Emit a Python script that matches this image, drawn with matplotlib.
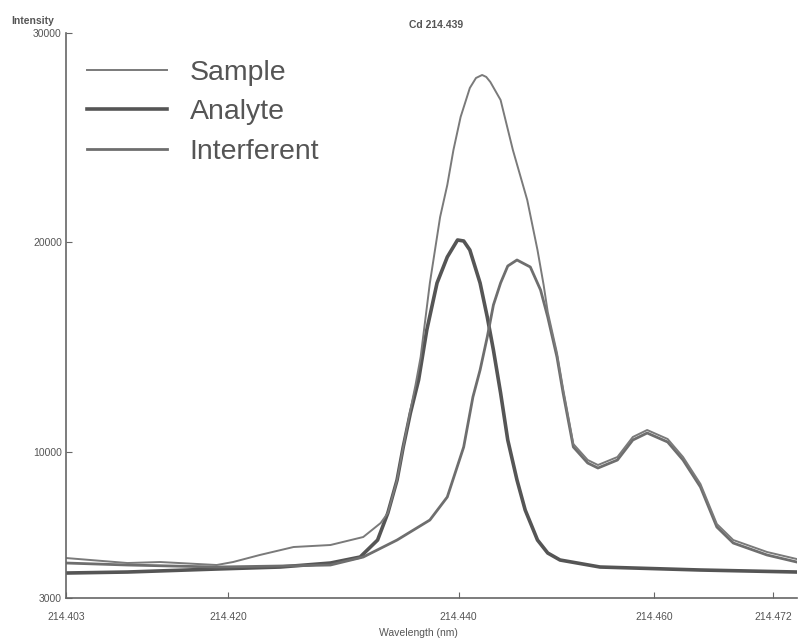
import numpy as np
import matplotlib
matplotlib.use("Agg")
import matplotlib.pyplot as plt

wl_sample = [214.4030, 214.4090, 214.4122, 214.4177, 214.4193, 214.4219, 214.4252,
             214.4288, 214.4320, 214.4337, 214.4344, 214.4353, 214.4359, 214.4366,
             214.4371, 214.4376, 214.4385, 214.4395, 214.4402, 214.4408, 214.4415,
             214.4424, 214.4430, 214.4436, 214.4440, 214.4444, 214.4454, 214.4466,
             214.4480, 214.4490, 214.4496, 214.4500, 214.4509, 214.4515, 214.4525,
             214.4539, 214.4549, 214.4568, 214.4583, 214.4597, 214.4617, 214.4632,
             214.4649, 214.4665, 214.4681, 214.4714, 214.4743]
int_sample = [4910, 4671, 4719, 4576, 4719, 5054, 5436,
              5532, 5914, 6583, 7061, 8638, 10215, 11983,
              13178, 14516, 18052, 21206, 22736, 24409, 25986,
              27372, 27850, 27993, 27900, 27658, 26798, 24409,
              22019, 19630, 17957, 16667, 14707, 12987, 10358,
              9594, 9355, 9737, 10693, 11027, 10597, 9737,
              8447, 6535, 5770, 5197, 4862]

wl_analyte = [214.4030, 214.4090, 214.4177, 214.4239, 214.4288, 214.4317, 214.4334,
              214.4344, 214.4353, 214.4359, 214.4366, 214.4374, 214.4382, 214.4392,
              214.4402, 214.4412, 214.4418, 214.4424, 214.4434, 214.4441, 214.4447,
              214.4454, 214.4461, 214.4470, 214.4478, 214.4490, 214.4500, 214.4512,
              214.4551, 214.4649, 214.4743]
int_analyte = [4193, 4241, 4385, 4480, 4671, 4958, 5770,
               7061, 8638, 10215, 11840, 13417, 15806, 18052,
               19295, 20108, 20060, 19630, 18052, 16428, 14850,
               12800, 10549, 8638, 7204, 5770, 5149, 4815,
               4480, 4337, 4241]

wl_interf = [214.4030, 214.4090, 214.4177, 214.4239, 214.4288, 214.4320, 214.4353,
             214.4385, 214.4402, 214.4418, 214.4427, 214.4434, 214.4441, 214.4447,
             214.4454, 214.4461, 214.4470, 214.4483, 214.4493, 214.4500, 214.4509,
             214.4515, 214.4525, 214.4539, 214.4549, 214.4568, 214.4583, 214.4597,
             214.4617, 214.4632, 214.4649, 214.4665, 214.4681, 214.4714, 214.4743]
int_interf = [4671, 4576, 4480, 4528, 4576, 4958, 5770,
              6726, 7826, 10215, 12604, 13895, 15472, 17001,
              18052, 18865, 19152, 18817, 17718, 16428, 14516,
              12796, 10215, 9450, 9211, 9594, 10549, 10884,
              10454, 9594, 8303, 6392, 5627, 5054, 4719]

# posiciones de las etiquetas del eje x tal como aparecen en el grafico
xtick_pos = [214.4030, 214.4188, 214.4413, 214.4604, 214.4720]
xtick_lab = ["214.403", "214.420", "214.440", "214.460", "214.472"]
ytick_pos = [3000, 10000, 20000, 30000]
ytick_lab = ["3000", "10000", "20000", "30000"]

gris = "#555555"
fuente = ["Liberation Sans", "DejaVu Sans"]

fig = plt.figure(figsize=(8, 6.43), dpi=100)
ax = fig.add_axes([0.0825, 0.07, 0.9135, 0.8787])

ax.plot(wl_analyte, int_analyte, color="#555555", lw=2.6, label="Analyte")
ax.plot(wl_interf, int_interf, color="#6e6e6e", lw=2.0, label="Interferent")
ax.plot(wl_sample, int_sample, color="#7a7a7a", lw=1.4, label="Sample")

ax.set_xlim(214.4030, 214.4743)
ax.set_ylim(3000, 30000)

for s in ["top", "right"]:
    ax.spines[s].set_visible(False)
for s in ["left", "bottom"]:
    ax.spines[s].set_color("#666666")
    ax.spines[s].set_linewidth(1.2)

ax.set_xticks(xtick_pos)
ax.set_xticklabels(xtick_lab, fontsize=7.5, color=gris, family=fuente)
ax.set_yticks(ytick_pos)
ax.set_yticklabels(ytick_lab, fontsize=7.5, color=gris, family=fuente)
ax.tick_params(axis="both", direction="in", length=4, color="#666666")
ax.tick_params(axis="x", pad=10)
ax.tick_params(axis="y", pad=3)

handles, labels = ax.get_legend_handles_labels()
orden = [2, 0, 1]
leg = ax.legend([handles[i] for i in orden], [labels[i] for i in orden],
                loc="upper left", bbox_to_anchor=(0.029, 0.953), frameon=False,
                borderpad=0, borderaxespad=0, handlelength=2.8, handletextpad=0.8,
                labelspacing=0.48, prop={"family": fuente, "size": 20.5})
for t in leg.get_texts():
    t.set_color(gris)

fig.text(0.545, 0.953, "Cd 214.439", fontsize=7.5, color=gris, ha="center",
         va="bottom", fontweight="bold", family=fuente)
fig.text(0.014, 0.96, "Intensity", fontsize=7.5, color=gris, ha="left",
         va="bottom", fontweight="bold", family=fuente)
fig.text(0.523, 0.008, "Wavelength (nm)", fontsize=7.5, color=gris, ha="center",
         va="bottom", family=fuente)

plt.savefig("out.png", dpi=100)
